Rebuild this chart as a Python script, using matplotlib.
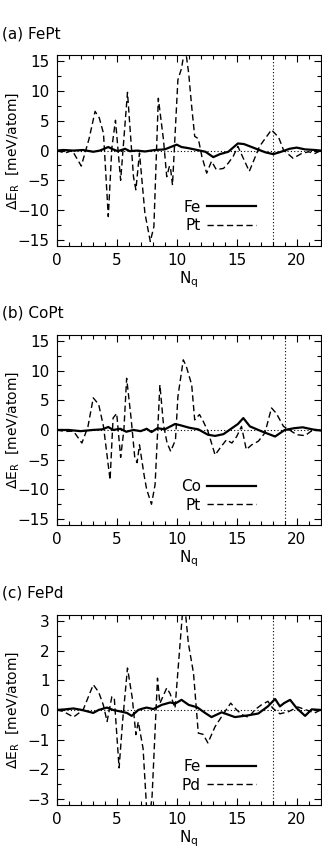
import numpy as np
import matplotlib
matplotlib.use('Agg')
import matplotlib.pyplot as plt
from matplotlib.ticker import MultipleLocator

plt.rcParams['font.family'] = ['DejaVu Sans']
plt.rcParams['font.size'] = 11
plt.rcParams['mathtext.default'] = 'regular'

# (a) FePt
fept_pt_x = [0, 0.7, 1.3, 2.05, 2.7, 3.2, 3.55, 3.9, 4.3, 4.6, 4.9, 5.33, 5.9, 6.4, 6.6, 6.9,
             7.35, 7.8, 8.1, 8.47, 8.9, 9.17, 9.4, 9.5, 9.65, 10.1, 10.4, 10.7, 11.0, 11.25,
             11.5, 11.8, 12.1, 12.5, 12.9, 13.3, 13.9, 14.3, 14.7, 15.1, 16.05, 16.9, 17.9,
             18.5, 18.9, 19.7, 20.4, 21.0, 21.5, 22]
fept_pt_y = [0, -0.4, 0, -2.6, 2.0, 6.6, 5.5, 2.9, -11.1, 0.5, 5.1, -5.0, 9.8, -4.4, -6.6, -0.4,
             -10.5, -15.3, -12.8, 8.8, 1.8, -4.4, -2.6, -3.2, -5.8, 11.9, 13.8, 17.5, 13.0, 7.4,
             2.4, 2.0, -1.0, -3.8, -1.8, -3.2, -3.0, -2.1, -1.0, 0.7, -3.5, 0.7, 3.5,
             2.2, 0.1, -1.3, -0.5, -0.2, -0.5, 0]
fept_fe_x = [0, 0.55, 1.4, 2.2, 3.05, 3.6, 4.3, 4.7, 5.1, 5.7, 6.1, 6.7, 7.35, 8.2, 9.0, 10.0,
             10.4, 11.0, 11.7, 12.4, 13.05, 13.6, 14.3, 15.1, 15.6, 16.5, 17.4, 18.05, 18.7,
             19.4, 20.0, 20.7, 21.5, 22]
fept_fe_y = [0, 0.1, 0, 0.1, -0.2, 0, 0.6, 0.2, -0.1, 0.3, -0.1, 0, -0.15, 0.1, 0.2, 1.0,
             0.6, 0.4, 0.1, -0.2, -1.1, -0.6, -0.2, 1.2, 1.1, 0.4, -0.3, -0.6, -0.2,
             0.3, 0.5, 0.2, 0.1, 0]

# (b) CoPt
copt_pt_x = [0, 0.7, 1.4, 2.1, 2.6, 3.05, 3.5, 3.9, 4.45, 4.7, 5.0, 5.33, 5.6, 5.83, 6.2, 6.5,
             6.7, 6.9, 7.3, 7.5, 7.9, 8.2, 8.6, 8.9, 9.2, 9.5, 9.9, 10.1, 10.55, 10.8, 11.25,
             11.5, 11.9, 12.2, 12.6, 13.2, 13.7, 14.15, 14.6, 15.0, 15.4, 15.8, 16.25, 16.8,
             17.35, 17.9, 18.3, 18.9, 19.4, 20.0, 20.7, 21.2, 22]
copt_pt_y = [0, -0.25, -0.2, -2.2, 0.5, 5.4, 4.3, 0.6, -8.4, 2.0, 2.8, -4.6, 0, 8.7, 2.0, -4.5,
             -5.5, -2.5, -7.8, -10.0, -12.5, -9.2, 7.6, 0.9, -2.2, -3.6, -1.65, 5.6, 11.8, 10.7, 7.6,
             1.7, 2.6, 1.5, -0.2, -4.2, -2.8, -1.65, -2.2, -1.1, 0.6, -3.3, -2.5, -1.9,
             -0.5, 3.7, 2.8, 0.6, 0, -0.8, -0.95, -0.2, 0]
copt_co_x = [0, 1.0, 2.0, 3.0, 3.8, 4.3, 4.7, 5.3, 5.8, 6.4, 7.0, 7.5, 7.9, 8.4, 9.0, 9.86, 10.3,
             11.0, 11.8, 12.6, 13.2, 13.9, 14.6, 15.1, 15.55, 16.1, 17.1, 18.2, 19.0, 19.8,
             20.5, 21.3, 22]
copt_co_y = [0, 0, -0.2, 0, 0.1, 0.5, 0, 0.2, -0.3, 0, -0.2, 0.2, -0.35, 0.3, 0.1, 1.0, 0.8,
             0.4, 0.1, -0.8, -1.0, -0.7, 0.3, 1.0, 2.0, 0.6, -0.25, -1.1, 0, 0.3,
             0.45, 0.1, -0.1]

# (c) FePd
fepd_pd_x = [0, 0.55, 1.4, 2.2, 3.05, 3.5, 3.9, 4.2, 4.6, 4.8, 5.2, 5.5, 5.9, 6.3, 6.6, 6.8,
             7.2, 7.5, 7.78, 7.95, 8.4, 8.6, 9.17, 9.45, 9.86, 10.47, 10.7, 10.97, 11.4, 11.8,
             12.2, 12.6, 13.2, 13.75, 14.5, 15.0, 15.5, 16.0, 16.5, 17.05, 17.6, 18.0, 18.6,
             19.3, 20.1, 20.8, 21.5, 22]
fepd_pd_y = [0, -0.05, -0.24, 0, 0.85, 0.6, 0.15, -0.39, 0.45, 0.4, -1.95, -0.35, 1.41, 0.4,
             -0.83, -0.4, -1.3, -3.35, -3.5, -2.9, 1.07, 0.22, 0.74, 0.55, 0.06, 3.2, 3.4, 2.25,
             1.24, -0.78, -0.82, -1.11, -0.56, -0.22, 0.23, 0.0, -0.17, -0.25, 0, 0.17, 0.29,
             0.06, -0.13, -0.06, 0.1, 0.0, -0.1, 0]
fepd_fe_x = [0, 0.7, 1.4, 2.1, 3.05, 3.5, 4.2, 4.7, 5.3, 5.85, 6.25, 6.8, 7.2, 7.5, 8.05,
             8.75, 9.45, 9.9, 10.4, 11.0, 11.7, 12.4, 12.9, 13.75, 14.3, 14.85, 15.97, 16.8,
             17.2, 17.6, 18.2, 18.6, 18.95, 19.45, 20.0, 20.7, 21.25, 22]
fepd_fe_y = [0, 0.02, 0.05, 0, -0.1, 0, 0.08, 0, -0.05, -0.1, -0.2, 0, 0.05, 0.08, 0.03,
             0.17, 0.25, 0.22, 0.34, 0.17, 0.09, -0.11, -0.24, -0.08, -0.16, -0.24, -0.18, -0.12,
             0, 0.12, 0.37, 0.12, 0.23, 0.34, 0.06, -0.2, 0.02, 0]

panels = [
    ('(a) FePt', 'Fe', 'Pt', fept_fe_x, fept_fe_y, fept_pt_x, fept_pt_y, 18, 16, 5, 2.5),
    ('(b) CoPt', 'Co', 'Pt', copt_co_x, copt_co_y, copt_pt_x, copt_pt_y, 19, 16, 5, 2.5),
    ('(c) FePd', 'Fe', 'Pd', fepd_fe_x, fepd_fe_y, fepd_pd_x, fepd_pd_y, 18, 3.2, 1, 0.5),
]

fig = plt.figure(figsize=(3.22, 8.51), dpi=100)
bottoms = [0.7113, 0.383, 0.054]
title_y = [0.9606, 0.632, 0.303]

for i, (title, l1, l2, x1, y1, x2, y2, vline, ylim, ymaj, ymin) in enumerate(panels):
    ax = fig.add_axes([0.176, bottoms[i], 0.82, 0.2235])
    ax.axhline(0, color='black', lw=0.8, ls=(0, (1, 2)))
    ax.axvline(vline, color='black', lw=0.8, ls=(0, (1, 2)))
    ax.plot(x1, y1, color='black', lw=1.6, label=l1)
    ax.plot(x2, y2, color='black', lw=1.0, ls=(0, (4.5, 2.5)), label=l2)
    ax.set_xlim(0, 22)
    ax.set_ylim(-ylim, ylim)
    ax.xaxis.set_major_locator(MultipleLocator(5))
    ax.xaxis.set_minor_locator(MultipleLocator(1))
    ax.yaxis.set_major_locator(MultipleLocator(ymaj))
    ax.yaxis.set_minor_locator(MultipleLocator(ymin))
    ax.tick_params(which='both', direction='in', top=True, right=True, width=0.8)
    ax.tick_params(which='major', length=5, pad=5)
    ax.tick_params(which='minor', length=3)
    ax.set_xlabel('N$_q$', labelpad=1)
    ax.set_ylabel(r'$\Delta$E$_R$  [meV/atom]', fontsize=10)
    ax.yaxis.set_label_coords(-0.135, 0.5)
    ax.legend(loc='lower right', bbox_to_anchor=(0.8, 0.0), frameon=False,
              markerfirst=False, handlelength=3.2, handletextpad=0.4,
              labelspacing=0.25, borderpad=0.3)
    fig.text(0.006, title_y[i], title, fontsize=11, va='center', ha='left')

fig.savefig('out.png', dpi=100)
